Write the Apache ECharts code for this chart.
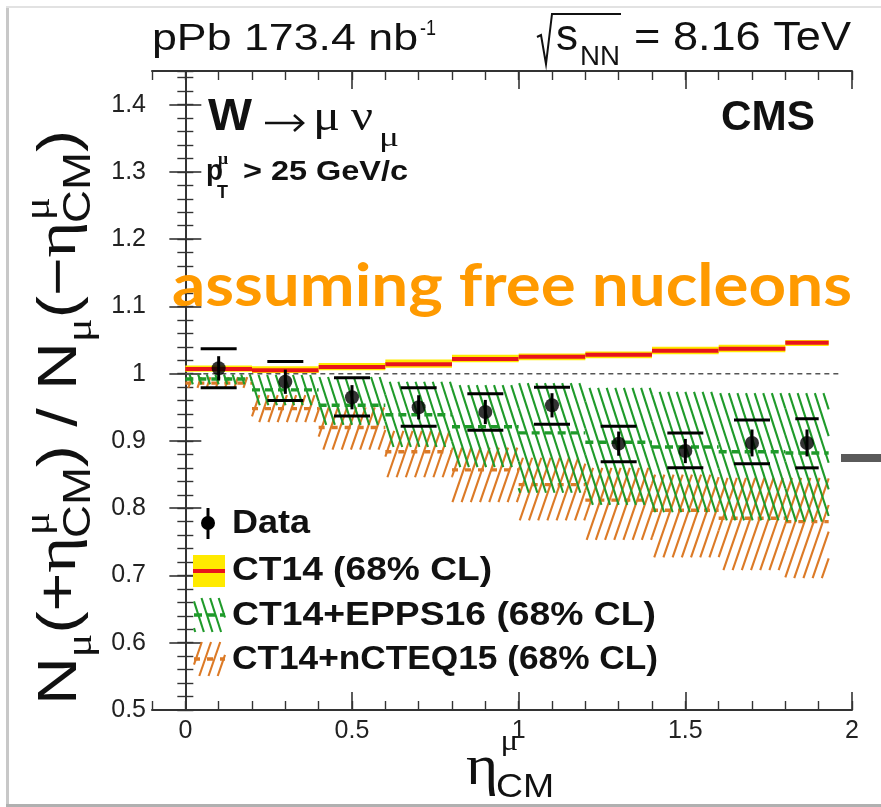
<!DOCTYPE html>
<html>
<head>
<meta charset="utf-8">
<script src="https://cdn.jsdelivr.net/npm/echarts@6/dist/echarts.min.js"></script>
<style>
html, body { margin: 0; padding: 0; background: #fff; }
#chart { width: 881px; height: 807px; }
</style>
</head>
<body>
<div id="chart"></div>
<script>
// ---- W -> mu nu forward/backward ratio, pPb 8.16 TeV ----
const binEdges = [0, 0.2, 0.4, 0.6, 0.8, 1.0, 1.2, 1.4, 1.6, 1.8, 1.93];
const etaCenters = [0.1, 0.3, 0.5, 0.7, 0.9, 1.1, 1.3, 1.5, 1.7, 1.865];

// measured ratio with statistical and systematic uncertainties
const dataRatio = [1.008, 0.988, 0.965, 0.950, 0.943, 0.953, 0.896, 0.885, 0.897, 0.897];
const dataStat  = [0.018, 0.018, 0.018, 0.018, 0.018, 0.018, 0.018, 0.018, 0.020, 0.020];
const dataSysHi = [1.037, 1.018, 0.994, 0.979, 0.970, 0.980, 0.922, 0.912, 0.931, 0.933];
const dataSysLo = [0.979, 0.960, 0.937, 0.922, 0.916, 0.925, 0.869, 0.860, 0.866, 0.860];

// CT14 (free nucleons)
const ct14Central = [1.007, 1.005, 1.010, 1.014, 1.022, 1.025, 1.028, 1.034, 1.037, 1.046];
const ct14Hi      = [1.012, 1.011, 1.016, 1.021, 1.028, 1.030, 1.033, 1.040, 1.043, 1.050];
const ct14Lo      = [1.003, 1.001, 1.005, 1.009, 1.017, 1.020, 1.023, 1.029, 1.032, 1.041];

// CT14 + EPPS16
const eppsCentral = [0.992, 0.976, 0.953, 0.939, 0.921, 0.912, 0.898, 0.891, 0.884, 0.882];
const eppsHi      = [0.999, 0.998, 0.995, 0.988, 0.983, 0.986, 0.979, 0.973, 0.971, 0.971];
const eppsLo      = [0.984, 0.953, 0.924, 0.891, 0.861, 0.823, 0.805, 0.794, 0.782, 0.780];

// CT14 + nCTEQ15
const ncteqCentral = [0.986, 0.948, 0.920, 0.884, 0.857, 0.835, 0.812, 0.797, 0.785, 0.780];
const ncteqHi      = [0.995, 0.968, 0.950, 0.915, 0.890, 0.875, 0.860, 0.850, 0.845, 0.845];
const ncteqLo      = [0.979, 0.928, 0.887, 0.846, 0.809, 0.782, 0.753, 0.727, 0.708, 0.696];

// reference line at unity
const unityLineX = [0, 1.96];
const unityValue = 1;

// axis ticks
const xTickValues = [0, 0.5, 1, 1.5, 2];
const xTickLabels = ['0', '0.5', '1', '1.5', '2'];
const yTickValues = [0.5, 0.6, 0.7, 0.8, 0.9, 1.0, 1.1, 1.2, 1.3, 1.4];
const yTickLabels = ['0.5', '0.6', '0.7', '0.8', '0.9', '1', '1.1', '1.2', '1.3', '1.4'];

// ---------------------------------------------------------------
const FONT = '"Liberation Sans", Arial, Helvetica, sans-serif';
const GREEK = '"Liberation Serif", "DejaVu Serif", serif';
const INK = '#111';
const GREEN = '#1f9a2a';
const ORANGE = '#dc7a26';
const YELLOW = '#ffea00';
const RED = '#e8141c';

const mctx = document.createElement('canvas').getContext('2d');
function measure(t, size, weight, family) {
  mctx.font = (weight || 'normal') + ' ' + size + 'px ' + (family || FONT);
  return mctx.measureText(t).width;
}

// text placed by left edge and baseline; optional target width squeezes/stretches horizontally
function txt(t, x, baseline, size, o) {
  o = o || {};
  const weight = o.weight || 'normal';
  const family = o.family || FONT;
  let sx = 1;
  if (o.w) sx = o.w / measure(t, size, weight, family);
  return {
    type: 'text', x: x, y: baseline - 0.35 * size, scaleX: sx, z: o.z || 100,
    style: {
      text: t, fill: o.color || INK,
      font: weight + ' ' + size + 'px ' + family,
      align: 'left', verticalAlign: 'middle',
      textAlign: 'left', textVerticalAlign: 'middle'
    }
  };
}

// sequential layout of a formula with stacked super/subscripts (local coords, baseline y = 0)
function layoutMath(items) {
  const out = [];
  let cx = 0;
  items.forEach(function (it) {
    const w = measure(it.t, it.size, it.weight, it.fam);
    out.push(txt(it.t, cx, -(it.rise || 0), it.size, { weight: it.weight, family: it.fam }));
    let extra = 0;
    ['sup', 'sub'].forEach(function (k) {
      const s = it[k];
      if (!s) return;
      const sw = measure(s.t, s.size, s.weight, s.fam);
      out.push(txt(s.t, cx + w + (s.dx || 0), -(s.rise || 0), s.size, { weight: s.weight, family: s.fam }));
      extra = Math.max(extra, sw + (s.dx || 0));
    });
    cx += w + extra + (it.gap || 0);
  });
  return { children: out, width: cx };
}

// diagonal hatch segments clipped to an axis-aligned box, on a page-wide lattice
function hatch(xa, xb, ya, yb, spacing, slope, dir) {
  const x1 = Math.min(xa, xb), x2 = Math.max(xa, xb);
  const y1 = Math.min(ya, yb), y2 = Math.max(ya, yb);
  const a = dir * y1 / slope, b = dir * y2 / slope;
  const lo = Math.min(a, b), hi = Math.max(a, b);
  const kmin = Math.ceil((x1 - hi) / spacing), kmax = Math.floor((x2 - lo) / spacing);
  const segs = [];
  for (let k = kmin; k <= kmax; k++) {
    const yA = dir * slope * (x1 - k * spacing), yB = dir * slope * (x2 - k * spacing);
    const yl = Math.max(y1, Math.min(yA, yB)), yh = Math.min(y2, Math.max(yA, yB));
    if (yh - yl < 0.5) continue;
    segs.push([k * spacing + dir * yl / slope, yl, k * spacing + dir * yh / slope, yh]);
  }
  return segs;
}

function hatchLines(segs, color, width) {
  return segs.map(function (s) {
    return { type: 'line', shape: { x1: s[0], y1: s[1], x2: s[2], y2: s[3] },
      style: { stroke: color, lineWidth: width } };
  });
}

const GREEN_HATCH = { spacing: 8.6, slope: 3.1, dir: 1, width: 2.1 };
const ORANGE_HATCH = { spacing: 9.2, slope: 2.9, dir: -1, width: 2.1 };

function bandRenderer(color, hatchDef, dash) {
  return function (params, api) {
    const x0 = api.value(0), x1 = api.value(1);
    const lo = api.value(2), hi = api.value(3), mid = api.value(4);
    const pTop = api.coord([x0, hi]), pBot = api.coord([x1, lo]);
    const m0 = api.coord([x0, mid]), m1 = api.coord([x1, mid]);
    const children = hatchLines(
      hatch(pTop[0], pBot[0], pTop[1], pBot[1], hatchDef.spacing, hatchDef.slope, hatchDef.dir),
      color, hatchDef.width);
    children.push({ type: 'line', shape: { x1: m0[0], y1: m0[1], x2: m1[0], y2: m1[1] },
      style: { stroke: color, lineWidth: 3.4, lineDash: dash } });
    return { type: 'group', children: children };
  };
}

function ct14Renderer(params, api) {
  const x0 = api.value(0), x1 = api.value(1);
  const lo = api.value(2), hi = api.value(3), mid = api.value(4);
  const pTop = api.coord([x0, hi]), pBot = api.coord([x1, lo]);
  const m0 = api.coord([x0, mid]), m1 = api.coord([x1, mid]);
  return { type: 'group', children: [
    { type: 'rect', shape: { x: pTop[0], y: pTop[1], width: pBot[0] - pTop[0], height: pBot[1] - pTop[1] },
      style: { fill: YELLOW } },
    { type: 'line', shape: { x1: m0[0], y1: m0[1], x2: m1[0], y2: m1[1] },
      style: { stroke: RED, lineWidth: 4 } }
  ] };
}

function errorRenderer(params, api) {
  const i = params.dataIndex;
  const x = api.value(0), sysLo = api.value(1), sysHi = api.value(2), stLo = api.value(3), stHi = api.value(4);
  const half = 0.27 * (binEdges[i + 1] - binEdges[i]);
  const a = api.coord([x - half, sysHi]), b = api.coord([x + half, sysHi]);
  const c = api.coord([x - half, sysLo]), d = api.coord([x + half, sysLo]);
  const s0 = api.coord([x, stLo]), s1 = api.coord([x, stHi]);
  const st = { stroke: '#000', lineWidth: 3 };
  return { type: 'group', children: [
    { type: 'line', shape: { x1: a[0], y1: a[1], x2: b[0], y2: b[1] }, style: st },
    { type: 'line', shape: { x1: c[0], y1: c[1], x2: d[0], y2: d[1] }, style: st },
    { type: 'line', shape: { x1: s0[0], y1: s0[1], x2: s1[0], y2: s1[1] }, style: st }
  ] };
}

const ncteqData = ncteqCentral.map(function (c, i) { return [binEdges[i], binEdges[i + 1], ncteqLo[i], ncteqHi[i], c]; });
const eppsData = eppsCentral.map(function (c, i) { return [binEdges[i], binEdges[i + 1], eppsLo[i], eppsHi[i], c]; });
const ct14Data = ct14Central.map(function (c, i) { return [binEdges[i], binEdges[i + 1], ct14Lo[i], ct14Hi[i], c]; });
const errData = etaCenters.map(function (x, i) {
  return [x, dataSysLo[i], dataSysHi[i], dataRatio[i] - dataStat[i], dataRatio[i] + dataStat[i]];
});
const pointData = etaCenters.map(function (x, i) { return [x, dataRatio[i]]; });

// ---- axes: frame with ROOT-style inner ticks on all four sides ----
const AX = '#333';
function xAxisDef(pos, major) {
  return {
    type: 'value', position: pos, min: -0.1, max: 2.0,
    interval: 0.1,
    axisLine: { show: !major, lineStyle: { color: AX, width: 2 } },
    axisTick: major
      ? { show: true, inside: true, length: 18, customValues: xTickValues, lineStyle: { color: AX, width: 1.6 } }
      : { show: true, inside: true, length: 9, lineStyle: { color: AX, width: 1.4 } },
    axisLabel: (major && pos === 'bottom')
      ? { show: true, customValues: xTickValues, margin: 9, color: '#222', fontSize: 25, fontFamily: FONT,
          formatter: function (v) { const k = xTickValues.findIndex(function (t) { return Math.abs(t - v) < 1e-6; }); return k >= 0 ? xTickLabels[k] : ''; } }
      : { show: false },
    splitLine: { show: false }
  };
}
function yAxisDef(pos, major) {
  return {
    type: 'value', position: pos, min: 0.5, max: 1.45,
    interval: major ? 0.1 : 0.02,
    axisLine: { show: !major, lineStyle: { color: AX, width: 2 } },
    axisTick: major
      ? { show: true, inside: true, length: 16, customValues: yTickValues, lineStyle: { color: AX, width: 1.6 } }
      : { show: true, inside: true, length: 8, lineStyle: { color: AX, width: 1.4 } },
    axisLabel: (major && pos === 'left')
      ? { show: true, customValues: yTickValues, margin: 6, color: '#222', fontSize: 25, fontFamily: FONT,
          formatter: function (v) { const k = yTickValues.findIndex(function (t) { return Math.abs(t - v) < 1e-6; }); return k >= 0 ? yTickLabels[k] : ''; } }
      : { show: false },
    splitLine: { show: false }
  };
}

// ---- text and legend graphics ----
const g = [];

// slide edges
g.push({ type: 'rect', shape: { x: 6, y: 8, width: 3, height: 799 }, style: { fill: '#c8c8c8' }, z: 1 });
g.push({ type: 'rect', shape: { x: 6, y: 6, width: 875, height: 2 }, style: { fill: '#e2e2e2' }, z: 1 });
g.push({ type: 'rect', shape: { x: 6, y: 804, width: 875, height: 3 }, style: { fill: '#b0b0b0' }, z: 1 });
g.push({ type: 'rect', shape: { x: 841, y: 454, width: 40, height: 8 }, style: { fill: '#5a5a5a' }, z: 1 });

// header
g.push(txt('pPb 173.4 nb', 152, 53, 37, { w: 266 }));
g.push(txt('-1', 420, 37, 22, { w: 16 }));
g.push({ type: 'polyline', shape: { points: [[537, 37], [541, 35], [546, 64], [552, 14], [621, 14]] },
  style: { stroke: INK, lineWidth: 2, fill: null }, z: 100 });
g.push(txt('s', 556, 53, 44, { w: 22 }));
g.push(txt('NN', 580, 67, 27, { w: 40 }));
g.push(txt('= 8.16 TeV', 634, 53, 40, { w: 217 }));

// process label: W -> mu nu_mu
g.push(txt('W', 208, 133, 45, { weight: 'bold', w: 44 }));
g.push({ type: 'line', shape: { x1: 265, y1: 123, x2: 302, y2: 123 }, style: { stroke: INK, lineWidth: 2.6 }, z: 100 });
g.push({ type: 'polyline', shape: { points: [[294, 115], [303, 123], [294, 131]] },
  style: { stroke: INK, lineWidth: 2.6, fill: null }, z: 100 });
g.push(txt('\u03BC', 313, 134, 44, { family: GREEK, w: 27 }));
g.push(txt('\u03BD', 351, 134, 44, { family: GREEK, w: 22 }));
g.push(txt('\u03BC', 379, 148, 28, { family: GREEK, w: 20 }));
g.push(txt('p', 206, 182, 29, { weight: 'bold', w: 17 }));
g.push(txt('\u03BC', 218, 165, 16, { family: GREEK, weight: 'bold', w: 10 }));
g.push(txt('T', 217, 199, 18, { weight: 'bold', w: 11 }));
g.push(txt('> 25 GeV/c', 243, 182, 28, { weight: 'bold', w: 165 }));

// experiment label
g.push(txt('CMS', 721, 133, 42, { weight: 'bold', w: 94 }));

// annotation
g.push(txt('assuming free nucleons', 172, 308, 59,
  { weight: 'bold', family: 'Lato, "Open Sans", sans-serif', color: '#ff9a00', w: 680 }));

// legend
g.push({ type: 'line', shape: { x1: 208, y1: 508, x2: 208, y2: 539 }, style: { stroke: '#000', lineWidth: 3 }, z: 100 });
g.push({ type: 'circle', shape: { cx: 208, cy: 523, r: 7 }, style: { fill: '#000' }, z: 100 });
g.push(txt('Data', 232, 536, 34, { weight: 'bold', w: 78 }));

g.push({ type: 'rect', shape: { x: 193, y: 555, width: 32, height: 32 }, style: { fill: YELLOW }, z: 100 });
g.push({ type: 'line', shape: { x1: 193, y1: 571, x2: 225, y2: 571 }, style: { stroke: RED, lineWidth: 4 }, z: 100 });
g.push(txt('CT14 (68% CL)', 232, 583, 34, { weight: 'bold', w: 260 }));

hatchLines(hatch(194, 225, 598, 632, GREEN_HATCH.spacing, GREEN_HATCH.slope, GREEN_HATCH.dir), GREEN, GREEN_HATCH.width)
  .forEach(function (e) { e.z = 100; g.push(e); });
g.push({ type: 'line', shape: { x1: 194, y1: 615, x2: 225, y2: 615 }, style: { stroke: GREEN, lineWidth: 3.4, lineDash: [8, 5] }, z: 100 });
g.push(txt('CT14+EPPS16 (68% CL)', 232, 628, 34, { weight: 'bold', w: 424 }));

hatchLines(hatch(194, 225, 642, 676, ORANGE_HATCH.spacing, ORANGE_HATCH.slope, ORANGE_HATCH.dir), ORANGE, ORANGE_HATCH.width)
  .forEach(function (e) { e.z = 100; g.push(e); });
g.push({ type: 'line', shape: { x1: 194, y1: 659, x2: 225, y2: 659 }, style: { stroke: ORANGE, lineWidth: 3.4, lineDash: [6, 7] }, z: 100 });
g.push(txt('CT14+nCTEQ15 (68% CL)', 232, 672, 34, { weight: 'bold', w: 426 }));

// x-axis title: eta^mu_CM
(function () {
  const m = layoutMath([
    { t: '\u03B7', size: 56, fam: GREEK,
      sup: { t: '\u03BC', size: 30, rise: 36, dx: 2, fam: GREEK },
      sub: { t: 'CM', size: 34, rise: -11, dx: -2 } }
  ]);
  g.push({ type: 'group', x: 466, y: 789, scaleX: 1.1, children: m.children, z: 100 });
})();

// y-axis title: N_mu(+eta^mu_CM) / N_mu(-eta^mu_CM)
(function () {
  const S = 48;
  const eta = { t: '\u03B7', size: S + 2, fam: GREEK,
    sup: { t: '\u03BC', size: 31, rise: 24, dx: 1, fam: GREEK },
    sub: { t: 'CM', size: 33, rise: -11, dx: -1 } };
  const m = layoutMath([
    { t: 'N', size: S }, { t: '\u03BC', size: 32, rise: -12, fam: GREEK },
    { t: '(+', size: S }, eta, { t: ')', size: S },
    { t: ' / ', size: S },
    { t: 'N', size: S }, { t: '\u03BC', size: 32, rise: -12, fam: GREEK },
    { t: '(\u2212', size: S }, eta, { t: ')', size: S }
  ]);
  const len = 575;
  g.push({ type: 'group', x: 80, y: 705, rotation: Math.PI / 2,
    scaleX: len / m.width, scaleY: 1.15, children: m.children, z: 100 });
})();

const option = {
  animation: false,
  backgroundColor: '#fff',
  grid: { left: 152, right: 29, top: 71, bottom: 97, containLabel: false },
  xAxis: [xAxisDef('bottom', false), xAxisDef('bottom', true), xAxisDef('top', false), xAxisDef('top', true)],
  yAxis: [yAxisDef('left', true), yAxisDef('left', false), yAxisDef('right', true), yAxisDef('right', false)],
  graphic: { elements: g },
  series: [
    { name: 'CT14+nCTEQ15', type: 'custom', xAxisIndex: 0, yAxisIndex: 0, z: 2, silent: true, clip: true,
      renderItem: bandRenderer(ORANGE, ORANGE_HATCH, [6, 7]), encode: { x: [0, 1], y: [2, 3, 4] }, data: ncteqData },
    { name: 'CT14+EPPS16', type: 'custom', xAxisIndex: 0, yAxisIndex: 0, z: 3, silent: true, clip: true,
      renderItem: bandRenderer(GREEN, GREEN_HATCH, [8, 5]), encode: { x: [0, 1], y: [2, 3, 4] }, data: eppsData },
    { name: 'CT14', type: 'custom', xAxisIndex: 0, yAxisIndex: 0, z: 4, silent: true, clip: true,
      renderItem: ct14Renderer, encode: { x: [0, 1], y: [2, 3, 4] }, data: ct14Data },
    { name: 'unity', type: 'line', xAxisIndex: 0, yAxisIndex: 0, z: 5, silent: true, symbol: 'none',
      lineStyle: { color: '#555', width: 1.5, type: [5, 4] },
      data: unityLineX.map(function (x) { return [x, unityValue]; }) },
    { name: 'Data errors', type: 'custom', xAxisIndex: 0, yAxisIndex: 0, z: 9, silent: true, clip: true,
      renderItem: errorRenderer, encode: { x: 0, y: [1, 2, 3, 4] }, data: errData },
    { name: 'Data', type: 'scatter', xAxisIndex: 0, yAxisIndex: 0, z: 10, silent: true,
      symbol: 'circle', symbolSize: 14, itemStyle: { color: '#000' }, data: pointData }
  ]
};

const chart = echarts.init(document.getElementById('chart'), null, { renderer: 'canvas' });
chart.setOption(option);
</script>
</body>
</html>
